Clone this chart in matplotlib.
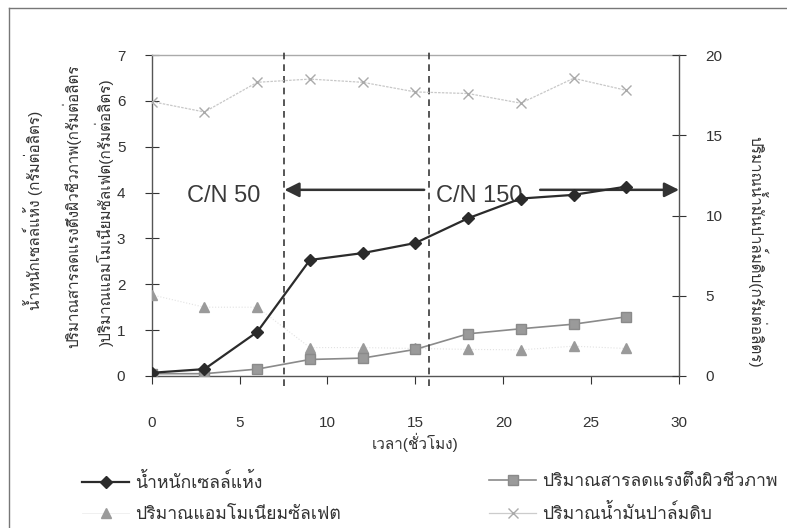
#!/usr/bin/env python3
"""
Cell growth, biosurfactant, ammonium sulfate and palm oil vs time
"""

import matplotlib
matplotlib.use('Agg')
import matplotlib.pyplot as plt
from matplotlib import font_manager
from matplotlib.ft2font import FT2Font
from matplotlib.lines import Line2D

# data
time_h = [0, 3, 6, 9, 12, 15, 18, 21, 24, 27]
dry_cell = [0.07, 0.15, 0.96, 2.53, 2.68, 2.90, 3.44, 3.87, 3.95, 4.13]
biosurf = [0.05, 0.05, 0.15, 0.36, 0.39, 0.58, 0.92, 1.03, 1.13, 1.29]
ammonium = [1.77, 1.50, 1.50, 0.62, 0.62, 0.60, 0.58, 0.57, 0.65, 0.60]
palm_oil = [17.1, 16.45, 18.3, 18.5, 18.3, 17.7, 17.6, 17.0, 18.55, 17.8]

x_ticks = [0, 5, 10, 15, 20, 25, 30]
left_ticks = [0, 1, 2, 3, 4, 5, 6, 7]
right_ticks = [0, 5, 10, 15, 20]
phase_lines = [7.5, 15.8]

lbl_dry = 'น้ำหนักเซลล์แห้ง'
lbl_bio = 'ปริมาณสารลดแรงตึงผิวชีวภาพ'
lbl_amm = 'ปริมาณแอมโมเนียมซัลเฟต'
lbl_oil = 'ปริมาณน้ำมันปาล์มดิบ'
ylabel_lines = ['น้ำหนักเซลล์แห้ง (กรัมต่อลิตร)',
                'ปริมาณสารลดแรงตึงผิวชีวภาพ(กรัมต่อลิตร',
                ')ปริมาณแอมโมเนียมซัลเฟต(กรัมต่อลิตร)']
ylabel_right = 'ปริมาณน้ำมันปาล์มดิบ(กรัมต่อลิตร)'
xlabel = 'เวลา(ชั่วโมง)'


def find_thai_font():
    """Look for an installed font that has Thai glyphs"""
    for f in font_manager.fontManager.ttflist:
        try:
            if 0x0E01 in FT2Font(f.fname).get_charmap():
                return f.name
        except Exception:
            pass
    return None


thai = find_thai_font()
families = ['Liberation Sans']
if thai:
    families.append(thai)
families.append('DejaVu Sans')
plt.rcParams['font.family'] = families

fig = plt.figure(figsize=(7.87, 5.28), dpi=100)
ax = fig.add_axes([0.1928, 0.2879, 0.6700, 0.6079])
ax2 = ax.twinx()

ax.plot(time_h, ammonium, color='#e2e2e2', lw=0.8, ls=':', marker='^',
        ms=7, mfc='#9a9a9a', mec='#9a9a9a', zorder=3)
ax.plot(time_h, biosurf, color='#8a8a8a', lw=1.2, marker='s',
        ms=6.5, mfc='#9a9a9a', mec='#8a8a8a', zorder=4)
ax.plot(time_h, dry_cell, color='#2b2b2b', lw=1.6, marker='D',
        ms=6.5, mfc='#2b2b2b', mec='#2b2b2b', zorder=5)
ax2.plot(time_h, palm_oil, color='#c8c8c8', lw=0.9, ls=(0, (2, 1)), marker='x',
         ms=7, mec='#aaaaaa', mew=1.0, zorder=2)

for xv in phase_lines:
    ax.axvline(xv, ymin=-0.03, ymax=1.02, color='#3a3a3a', lw=1.2,
               ls=(0, (4, 3)), clip_on=False, zorder=6)

# C/N annotations
ax.text(2.0, 3.92, 'C/N 50', fontsize=17, color='#3a3a3a', va='center', ha='left')
ax.text(16.2, 3.92, 'C/N 150', fontsize=17, color='#3a3a3a', va='center', ha='left')
ax.annotate('', xy=(7.55, 4.06), xytext=(15.5, 4.06),
            arrowprops=dict(arrowstyle='-|>', color='#333333', lw=1.8,
                            mutation_scale=22, shrinkA=0, shrinkB=0))
ax.annotate('', xy=(30.0, 4.06), xytext=(22.1, 4.06),
            arrowprops=dict(arrowstyle='-|>', color='#333333', lw=1.8,
                            mutation_scale=22, shrinkA=0, shrinkB=0),
            annotation_clip=False)

ax.set_xlim(0, 30)
ax.set_ylim(0, 7)
ax2.set_ylim(0, 20)
ax.set_xticks(x_ticks)
ax.set_yticks(left_ticks)
ax2.set_yticks(right_ticks)

for a in (ax, ax2):
    for s in a.spines.values():
        s.set_color('#555555')
        s.set_linewidth(1.0)
ax.spines['top'].set_color('#aaaaaa')
ax.spines['top'].set_linestyle((0, (2, 1)))
ax2.spines['top'].set_visible(False)
ax2.spines['left'].set_visible(False)
ax2.spines['bottom'].set_visible(False)
ax.spines['right'].set_visible(False)

ax.tick_params(axis='x', direction='out', length=6, pad=23, labelsize=11,
               colors='#333333')
ax.tick_params(axis='y', direction='inout', length=10, pad=14, labelsize=11,
               colors='#333333')
ax2.tick_params(axis='y', direction='inout', length=10, pad=14, labelsize=11,
                colors='#333333')

fig.text(0.527, 1 - 442 / 528, xlabel, fontsize=11, color='#333333',
         ha='center', va='center')

# stacked left y labels
for xpx, ypx, txt in [(33, 210, ylabel_lines[0]), (72, 206, ylabel_lines[1]),
                      (104, 212, ylabel_lines[2])]:
    fig.text(xpx / 787, 1 - ypx / 528, txt, rotation=90, fontsize=11,
             color='#333333', ha='center', va='center')
fig.text(757 / 787, 1 - 252 / 528, ylabel_right, rotation=-90, fontsize=11,
         color='#333333', ha='center', va='center')

# legend, two columns
h_dry = Line2D([], [], color='#2b2b2b', lw=1.6, marker='D', ms=6.5)
h_bio = Line2D([], [], color='#8a8a8a', lw=1.2, marker='s', ms=6.5, mfc='#9a9a9a')
h_amm = Line2D([], [], color='#eeeeee', lw=0.6, marker='^', ms=7,
               mfc='#9a9a9a', mec='#9a9a9a')
h_oil = Line2D([], [], color='#cccccc', lw=0.9, marker='x', ms=7, mec='#aaaaaa')
for handles, labels, xpx in [([h_dry, h_amm], [lbl_dry, lbl_amm], 73),
                             ([h_bio, h_oil], [lbl_bio, lbl_oil], 480)]:
    fig.legend(handles, labels, loc='upper left',
               bbox_to_anchor=(xpx / 787, 1 - 464 / 528), frameon=False,
               fontsize=12.7, handlelength=2.7, handletextpad=0.3,
               labelspacing=0.82, borderpad=0, labelcolor='#333333')

# figure frame (left and top edges)
fig.add_artist(Line2D([9 / 787, 9 / 787], [0, 1 - 8 / 528], color='#777777', lw=1.0))
fig.add_artist(Line2D([9 / 787, 1], [1 - 8 / 528, 1 - 8 / 528], color='#777777', lw=1.0))

plt.savefig('out.png', dpi=100)
print("saved out.png, thai font:", thai)
